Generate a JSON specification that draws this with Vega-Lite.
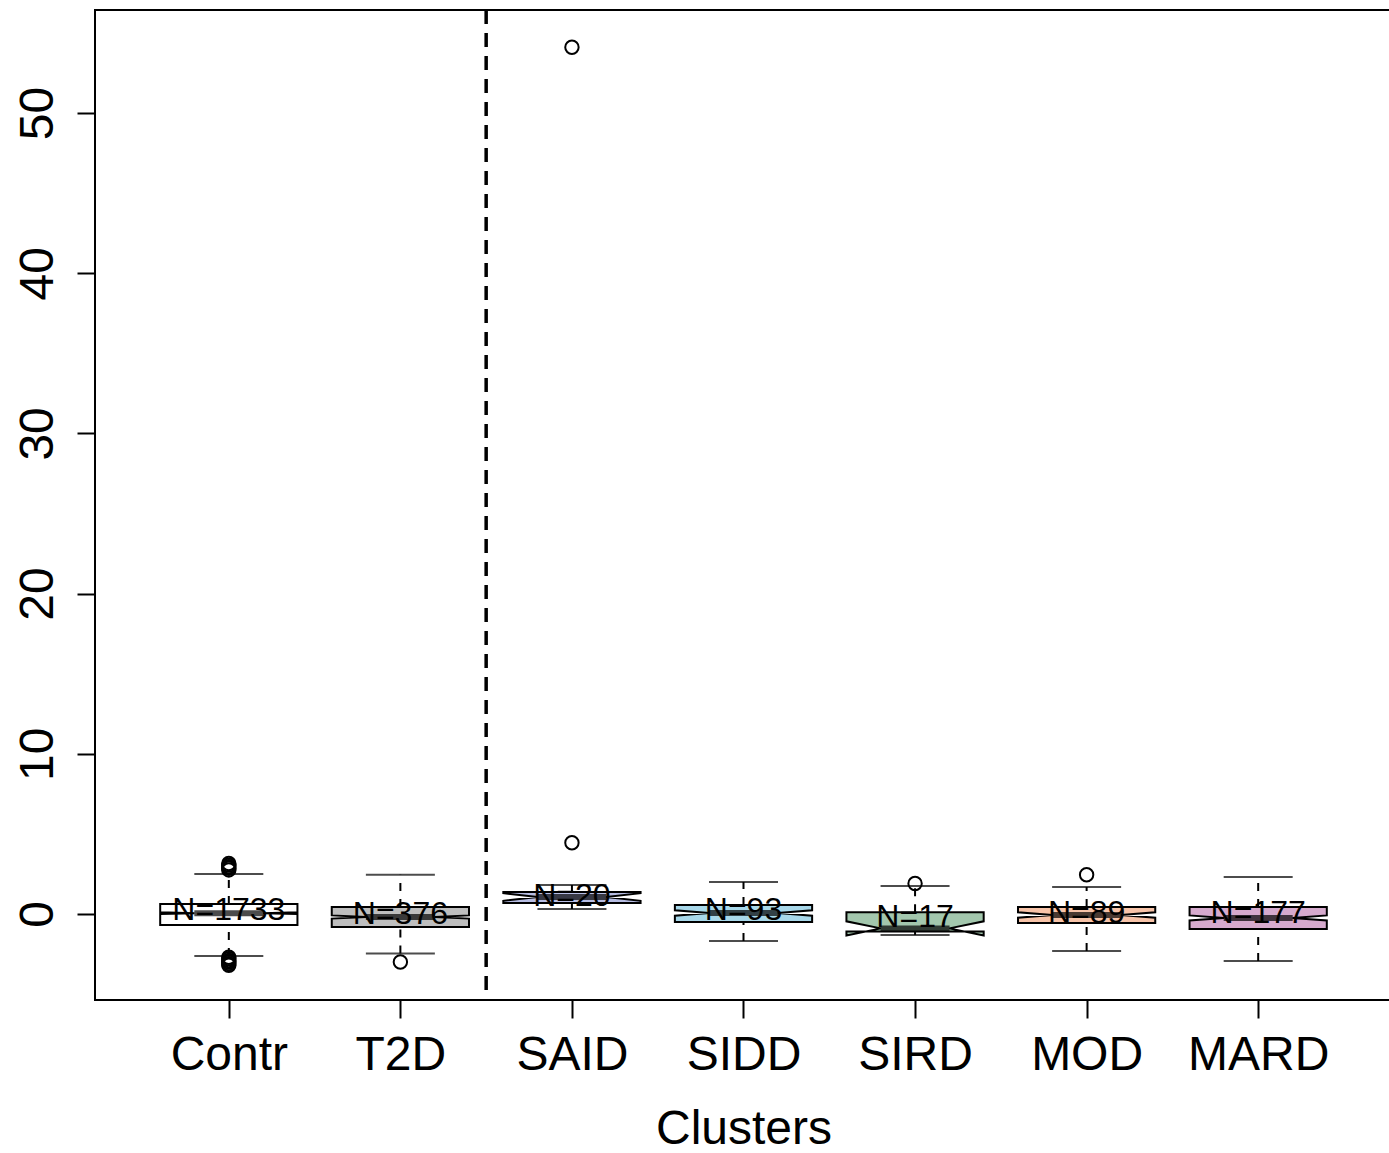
{
  "$schema": "https://vega.github.io/schema/vega-lite/v6.json",
  "width": 1297,
  "height": 990,
  "autosize": {"type": "none"},
  "padding": {"left": 95, "top": 10, "right": 0, "bottom": 153},
  "background": "white",
  "config": {"view": {"stroke": "black", "strokeWidth": 2}, "font": "Liberation Sans"},
  "datasets": {
    "boxes": [
      {"group": "Contr", "pos": 1, "label": "N=1733", "lw": -2.62, "q1": -0.69, "med": 0.05, "q3": 0.62, "uw": 2.5, "nlo": 0.0, "nhi": 0.1, "mean": 0.25},
      {"group": "T2D", "pos": 2, "label": "N=376", "lw": -2.47, "q1": -0.81, "med": -0.19, "q3": 0.44, "uw": 2.45, "nlo": -0.29, "nhi": -0.09, "mean": 0.0},
      {"group": "SAID", "pos": 3, "label": "N=20", "lw": 0.31, "q1": 0.69, "med": 1.06, "q3": 1.37, "uw": 1.81, "nlo": 0.82, "nhi": 1.3, "mean": 1.12},
      {"group": "SIDD", "pos": 4, "label": "N=93", "lw": -1.69, "q1": -0.5, "med": 0.06, "q3": 0.56, "uw": 2.0, "nlo": -0.11, "nhi": 0.23, "mean": 0.25},
      {"group": "SIRD", "pos": 5, "label": "N=17", "lw": -1.31, "q1": -1.1, "med": -0.9, "q3": 0.1, "uw": 1.75, "nlo": -1.34, "nhi": -0.46, "mean": -0.19},
      {"group": "MOD", "pos": 6, "label": "N=89", "lw": -2.31, "q1": -0.56, "med": -0.06, "q3": 0.44, "uw": 1.69, "nlo": -0.23, "nhi": 0.11, "mean": 0.06},
      {"group": "MARD", "pos": 7, "label": "N=177", "lw": -2.93, "q1": -0.94, "med": -0.25, "q3": 0.44, "uw": 2.31, "nlo": -0.41, "nhi": -0.09, "mean": 0.06}
    ],
    "outliers": [
      {"pos": 1, "value": 2.75}, {"pos": 1, "value": 2.85}, {"pos": 1, "value": 2.95}, {"pos": 1, "value": 3.05}, {"pos": 1, "value": 3.15},
      {"pos": 1, "value": -2.7}, {"pos": 1, "value": -2.8}, {"pos": 1, "value": -2.9}, {"pos": 1, "value": -3.0}, {"pos": 1, "value": -3.1}, {"pos": 1, "value": -3.2},
      {"pos": 2, "value": -3.0},
      {"pos": 3, "value": 54.1}, {"pos": 3, "value": 4.45},
      {"pos": 5, "value": 1.9},
      {"pos": 6, "value": 2.45}
    ]
  },
  "layer": [
    {
      "data": {"values": [{}]},
      "mark": {"type": "rule", "strokeDash": [14, 9], "strokeWidth": 3.5, "color": "black"},
      "encoding": {
        "x": {"datum": 2.5, "type": "quantitative", "scale": {"domain": [0.22, 7.78], "nice": false, "zero": false},
          "axis": {"values": [1, 2, 3, 4, 5, 6, 7], "labelExpr": "['Contr','T2D','SAID','SIDD','SIRD','MOD','MARD'][datum.value - 1]", "title": "Clusters", "titleFontSize": 48, "titleFontWeight": "normal", "titleColor": "black", "titlePadding": 26, "labelFontSize": 48, "labelColor": "black", "labelPadding": 13, "labelBaseline": "top", "tickSize": 18, "tickWidth": 2, "tickColor": "black", "domain": false, "grid": false, "labelFont": "Liberation Sans", "titleFont": "Liberation Sans"}}
      }
    },
    {
      "data": {"name": "boxes"},
      "mark": {"type": "rule", "strokeDash": [8, 8], "strokeWidth": 2, "color": "black"},
      "encoding": {
        "x": {"field": "pos", "type": "quantitative"},
        "y": {"field": "q3", "type": "quantitative", "scale": {"domain": [-5.37, 56.43], "nice": false, "zero": false},
          "axis": {"values": [0, 10, 20, 30, 40, 50], "title": null, "labelFontSize": 48, "labelColor": "black", "labelAngle": -90, "labelAlign": "center", "labelBaseline": "alphabetic", "labelPadding": 25, "tickSize": 18, "tickWidth": 2, "tickColor": "black", "domain": false, "grid": false, "labelFont": "Liberation Sans"}},
        "y2": {"field": "uw"}
      }
    },
    {
      "data": {"name": "boxes"},
      "mark": {"type": "rule", "strokeDash": [8, 8], "strokeWidth": 2, "color": "black"},
      "encoding": {
        "x": {"field": "pos", "type": "quantitative"},
        "y": {"field": "lw", "type": "quantitative"},
        "y2": {"field": "q1"}
      }
    },
    {
      "data": {"name": "boxes"},
      "mark": {"type": "tick", "orient": "horizontal", "size": 69, "thickness": 2, "color": "black"},
      "encoding": {
        "x": {"field": "pos", "type": "quantitative"},
        "y": {"field": "uw", "type": "quantitative"}
      }
    },
    {
      "data": {"name": "boxes"},
      "mark": {"type": "tick", "orient": "horizontal", "size": 69, "thickness": 2, "color": "black"},
      "encoding": {
        "x": {"field": "pos", "type": "quantitative"},
        "y": {"field": "lw", "type": "quantitative"}
      }
    },
    {
      "data": {"name": "boxes"},
      "transform": [
        {"fold": ["q1", "nlo", "med", "nhi", "q3"], "as": ["k", "yv"]},
        {"calculate": "datum.pos - (datum.k === 'med' ? 0.2 : 0.4)", "as": "xl"},
        {"calculate": "datum.pos + (datum.k === 'med' ? 0.2 : 0.4)", "as": "xr"}
      ],
      "mark": {"type": "area", "orient": "horizontal", "stroke": "black", "strokeWidth": 2, "opacity": 1, "fillOpacity": 1},
      "encoding": {
        "y": {"field": "yv", "type": "quantitative"},
        "x": {"field": "xl", "type": "quantitative"},
        "x2": {"field": "xr"},
        "fill": {"field": "group", "type": "nominal", "legend": null,
          "scale": {"domain": ["Contr", "T2D", "SAID", "SIDD", "SIRD", "MOD", "MARD"], "range": ["#ffffff", "#bebebe", "#b7bde3", "#a8d8ea", "#a3c7ad", "#f7c3a8", "#d6aacd"]}},
        "order": {"value": null}
      }
    },
    {
      "data": {"name": "boxes"},
      "mark": {"type": "tick", "orient": "horizontal", "size": 69, "thickness": 6, "color": "black"},
      "encoding": {
        "x": {"field": "pos", "type": "quantitative"},
        "y": {"field": "med", "type": "quantitative"}
      }
    },
    {
      "data": {"name": "outliers"},
      "mark": {"type": "point", "shape": "circle", "filled": false, "size": 180, "strokeWidth": 2, "color": "black", "opacity": 1},
      "encoding": {
        "x": {"field": "pos", "type": "quantitative"},
        "y": {"field": "value", "type": "quantitative"}
      }
    },
    {
      "data": {"name": "boxes"},
      "mark": {"type": "text", "fontSize": 32, "align": "center", "baseline": "middle", "color": "black", "font": "Liberation Sans"},
      "encoding": {
        "x": {"field": "pos", "type": "quantitative"},
        "y": {"field": "mean", "type": "quantitative"},
        "text": {"field": "label"}
      }
    }
  ]
}
